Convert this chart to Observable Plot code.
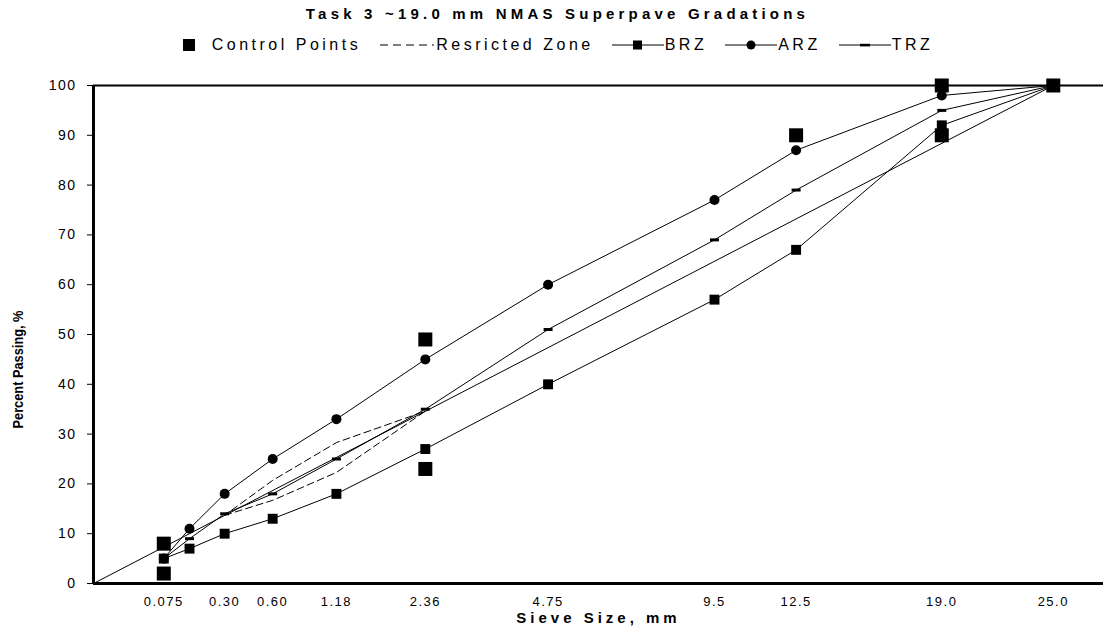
<!DOCTYPE html>
<html><head><meta charset="utf-8">
<script src="https://cdn.jsdelivr.net/npm/d3@7"></script>
<script src="https://cdn.jsdelivr.net/npm/@observablehq/plot@0.6"></script>
<style>
html,body{margin:0;padding:0;background:#fff;}
body{font-family:"Liberation Sans",Arial,sans-serif;color:#000;width:1103px;}
#title{height:26px;line-height:28px;text-align:center;font-weight:bold;font-size:15px;letter-spacing:4.2px;padding-left:12px;}
#legend{height:38px;display:flex;justify-content:center;align-items:center;font-size:16px;letter-spacing:3.5px;padding-left:12px;}
#legend .item{display:flex;align-items:center;margin:0 9px;}
#legend svg{margin-right:1px;}
#chart svg{display:block;}
</style></head><body>
<div id="title">Task 3 ~19.0 mm NMAS Superpave Gradations</div>
<div id="legend"></div>
<div id="chart"></div>
<script>
// ---- data ----
const sieves = [0.075, 0.15, 0.3, 0.6, 1.18, 2.36, 4.75, 9.5, 12.5, 19.0, 25.0];
const brz = [5, 7, 10, 13, 18, 27, 40, 57, 67, 92, 100];
const arz = [5, 11, 18, 25, 33, 45, 60, 77, 87, 98, 100];
const trz = [5, 9, 14, 18, 25, 35, 51, 69, 79, 95, 100];
const controlSieves = [0.075, 0.075, 2.36, 2.36, 12.5, 19.0, 19.0, 25.0];
const controlValues = [2, 8, 23, 49, 90, 90, 100, 100];
const rzSieves = [0.3, 0.6, 1.18, 2.36, 1.18, 0.6, 0.3];
const rzValues = [13.7, 16.7, 22.3, 34.6, 28.3, 20.7, 13.7];
const mdSieves = [0, 25.0];
const mdValues = [0, 100];
const tickSieves = [0.075, 0.3, 0.6, 1.18, 2.36, 4.75, 9.5, 12.5, 19.0, 25.0];
const tickLabels = ["0.075", "0.30", "0.60", "1.18", "2.36", "4.75", "9.5", "12.5", "19.0", "25.0"];
const yTicks = [0, 10, 20, 30, 40, 50, 60, 70, 80, 90, 100];
const legendNames = ["Control Points", "Resricted Zone", "BRZ", "ARZ", "TRZ"];
const xLabel = "Sieve Size, mm";
const yLabel = "Percent Passing, %";

// ---- tables ----
const toRows = (xs, ys) => xs.map((x, i) => ({x, y: ys[i]}));
const brzRows = toRows(sieves, brz);
const arzRows = toRows(sieves, arz);
const trzRows = toRows(sieves, trz);
const ctrlRows = toRows(controlSieves, controlValues);
const rzRows = toRows(rzSieves, rzValues);
const mdRows = toRows(mdSieves, mdValues);

const barSymbol = {draw(ctx, size) { ctx.moveTo(-4.5, -1.5); ctx.lineTo(4.5, -1.5); ctx.lineTo(4.5, 1.5); ctx.lineTo(-4.5, 1.5); ctx.closePath(); }};

// ---- legend ----
const lg = d3.select("#legend");
const sw = [
  s => { s.attr("width", 14).attr("height", 14); s.append("rect").attr("x", 1).attr("y", 1).attr("width", 12).attr("height", 12); },
  s => { s.attr("width", 56).attr("height", 10); s.append("line").attr("x1", 1).attr("x2", 55).attr("y1", 5).attr("y2", 5).attr("stroke", "#000").attr("stroke-dasharray", "8,5"); },
  s => { s.attr("width", 52).attr("height", 12); s.append("line").attr("x1", 0).attr("x2", 52).attr("y1", 6).attr("y2", 6).attr("stroke", "#000"); s.append("rect").attr("x", 21).attr("y", 1.5).attr("width", 9).attr("height", 9); },
  s => { s.attr("width", 52).attr("height", 12); s.append("line").attr("x1", 0).attr("x2", 52).attr("y1", 6).attr("y2", 6).attr("stroke", "#000"); s.append("circle").attr("cx", 26).attr("cy", 6).attr("r", 4.5); },
  s => { s.attr("width", 52).attr("height", 12); s.append("line").attr("x1", 0).attr("x2", 52).attr("y1", 6).attr("y2", 6).attr("stroke", "#000"); s.append("rect").attr("x", 21).attr("y", 4.8).attr("width", 10).attr("height", 2.6); }
];
legendNames.forEach((n, i) => {
  const it = lg.append("div").attr("class", "item");
  const s = it.append("svg");
  sw[i](s);
  if (i === 0) s.style("margin-right", "16px");
  it.append("span").text(n);
});

// ---- chart ----
const chart = Plot.plot({
  width: 1103,
  height: 574,
  marginLeft: 93,
  marginRight: 0,
  marginTop: 21,
  marginBottom: 55,
  style: {fontFamily: "'Liberation Sans', Arial, sans-serif", color: "#000", background: "#fff"},
  x: {type: "pow", exponent: 0.45, domain: [0, 28.0]},
  y: {domain: [0, 100]},
  marks: [
    Plot.ruleY([0], {strokeWidth: 3}),
    Plot.ruleY([100], {strokeWidth: 2}),
    Plot.ruleX([0], {strokeWidth: 3}),
    Plot.line(mdRows, {x: "x", y: "y", stroke: "#000", strokeWidth: 1}),
    Plot.line(rzRows, {x: "x", y: "y", stroke: "#000", strokeWidth: 1, strokeDasharray: "7,4"}),
    Plot.line(brzRows, {x: "x", y: "y", stroke: "#000", strokeWidth: 1}),
    Plot.line(arzRows, {x: "x", y: "y", stroke: "#000", strokeWidth: 1}),
    Plot.line(trzRows, {x: "x", y: "y", stroke: "#000", strokeWidth: 1}),
    Plot.dot(brzRows, {x: "x", y: "y", symbol: "square", r: 5.6, fill: "#000"}),
    Plot.dot(arzRows, {x: "x", y: "y", symbol: "circle", r: 5, fill: "#000"}),
    Plot.dot(trzRows, {x: "x", y: "y", symbol: barSymbol, r: 5, fill: "#000"}),
    Plot.dot(ctrlRows, {x: "x", y: "y", symbol: "square", r: 7.9, fill: "#000"}),
    Plot.axisY({ticks: yTicks, tickSize: 6, tickPadding: 11, fontSize: 14, label: null}),
    Plot.axisX({ticks: tickSieves, tickFormat: d => tickLabels[tickSieves.indexOf(d)], tickSize: 0, tickPadding: 13, fontSize: 13, label: null}),
    Plot.text([yLabel], {frameAnchor: "left", textAnchor: "middle", rotate: -90, dx: -75, dy: 35, fontWeight: "bold", fontSize: 14}),
    Plot.text([xLabel], {frameAnchor: "bottom", dy: 39, fontWeight: "bold", fontSize: 15})
  ]
});
d3.select(chart).selectAll("g[aria-label='y-axis tick label'] text").style("letter-spacing", "1.5px");
d3.select(chart).selectAll("g[aria-label='x-axis tick label'] text").style("letter-spacing", "1.5px");
const texts = d3.select(chart).selectAll("g[aria-label='text'] text");
texts.filter((d, i, n) => n[i].textContent === yLabel).attr("textLength", 118).attr("lengthAdjust", "spacingAndGlyphs");
texts.filter((d, i, n) => n[i].textContent === xLabel).style("letter-spacing", "4px");
document.getElementById("chart").appendChild(chart);
</script>
</body></html>
